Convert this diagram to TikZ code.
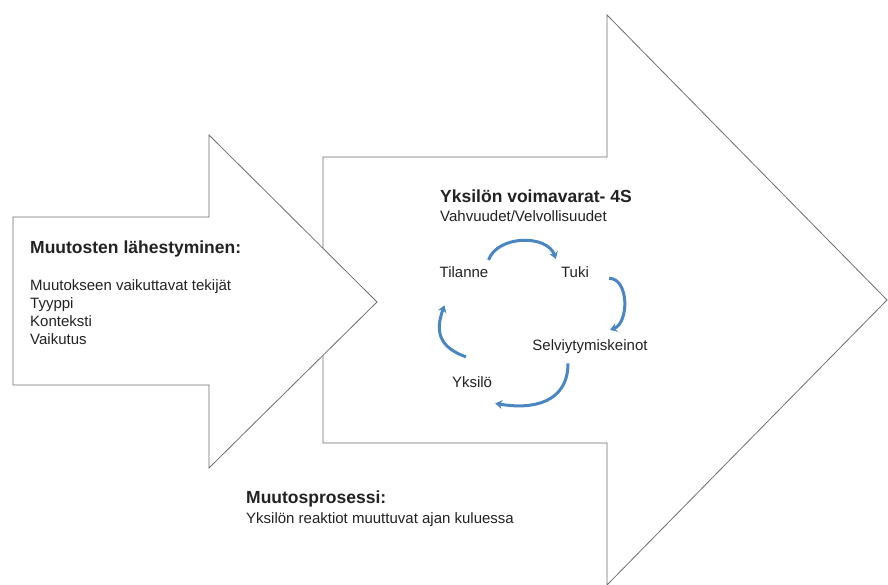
\documentclass[tikz,border=0pt]{standalone}
\usepackage{fontspec}
\setmainfont{Liberation Sans}
\usetikzlibrary{arrows.meta}
\definecolor{cycblue}{HTML}{4A86C2}
\definecolor{edgegray}{HTML}{6E6E6E}
\definecolor{txt}{HTML}{222222}
\begin{document}
\begin{tikzpicture}[x=1pt, y=1pt, line join=miter,
        outline/.style = {draw=edgegray, line width=0.8pt, fill=white},
        heading/.style = {inner sep=0pt, text=txt, font=\fontsize{17.5}{21}\selectfont\bfseries},
        bodytext/.style = {inner sep=0pt, text=txt, font=\fontsize{15}{18.3}\selectfont, align=left},
        stage/.style = {inner sep=0pt, text=txt, font=\fontsize{15}{18}\selectfont},
        cyc/.style = {draw=cycblue, line width=3pt, -{Stealth[length=7pt, width=9pt]}}]
    \useasboundingbox (0,0) rectangle (888,585);
    \draw[outline] (323,142) -- (607,142) -- (607,0) -- (887,285) -- (607,570) -- (607,428) -- (323,428) -- cycle;
    \draw[outline] (13,200) -- (209,200) -- (209,117) -- (377,283) -- (209,450) -- (209,368) -- (13,368) -- cycle;
    \node[heading, anchor=base west] (mh) at (30,331) {Muutosten lähestyminen:};
    \node[bodytext, anchor=north west] (mlist) at ([yshift=-25pt]mh.base west) {Muutokseen vaikuttavat tekijät\\Tyyppi\\Konteksti\\Vaikutus};
    \node[heading, anchor=base west] (yv) at (440,382) {Yksilön voimavarat- 4S};
    \node[bodytext, anchor=base west] (vv) at ([yshift=-19pt]yv.base west) {Vahvuudet/Velvollisuudet};
    \node[stage, anchor=base] (tilanne) at (464,307) {Tilanne};
    \node[stage, anchor=base] (tuki) at (575,307) {Tuki};
    \node[stage, anchor=base] (selv) at (590,234) {Selviytymiskeinot};
    \node[stage, anchor=base] (yksilo) at (472,197) {Yksilö};
    \node[heading, anchor=base west] (mp) at (246,81) {Muutosprosessi:};
    \node[bodytext, anchor=base west] (mr) at ([yshift=-20pt]mp.base west) {Yksilön reaktiot muuttuvat ajan kuluessa};
    \draw[cyc] ([yshift=7pt]tilanne.north east) to [out=70,in=110] ([shift={(-5pt,8pt)}]tuki.north west);
    \draw[cyc] ([xshift=20pt]tuki.south east) to [out=0,in=20] ([shift={(20pt,10pt)}]selv.north);
    \draw[cyc] ([shift={(-22pt,-9pt)}]selv.south) to [out=-90,in=-10,looseness=1.2] ([shift={(3pt,-15pt)}]yksilo.south east);
    \draw[cyc] ([shift={(-6pt,20pt)}]yksilo.north) to [out=160,in=-110,looseness=1.3] ([shift={(5pt,-27pt)}]tilanne.south west);
\end{tikzpicture}
\end{document}
